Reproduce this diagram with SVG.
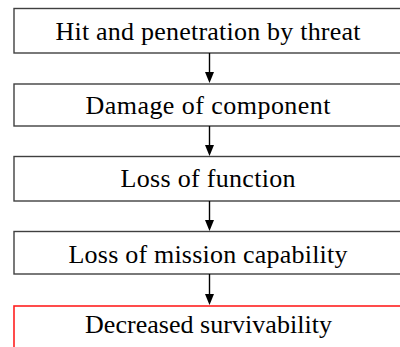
<svg xmlns="http://www.w3.org/2000/svg" width="400" height="347" viewBox="0 0 400 347">
<style>
.box{fill:#fff;stroke:#404040;stroke-width:1.4}
.red{fill:#fff;stroke:#ff2020;stroke-width:1.6}
.lbl{font-family:"Liberation Serif","Times New Roman",serif;font-size:26px;fill:#000;text-anchor:middle}
.ln{stroke:#000;stroke-width:1.4}
</style>
<rect width="400" height="347" fill="#fff"/>
<g id="n1"><rect class="box" x="14" y="8.5" width="400" height="44.5"/><text class="lbl" x="208" y="40" textLength="305" lengthAdjust="spacing">Hit and penetration by threat</text></g>
<g id="n2"><rect class="box" x="14" y="84" width="400" height="42"/><text class="lbl" x="208" y="114" textLength="245" lengthAdjust="spacing">Damage of component</text></g>
<g id="n3"><rect class="box" x="14" y="156.5" width="400" height="44.5"/><text class="lbl" x="208" y="187" textLength="175" lengthAdjust="spacing">Loss of function</text></g>
<g id="n4"><rect class="box" x="14" y="231.5" width="400" height="42.5"/><text class="lbl" x="208" y="262.5" textLength="279" lengthAdjust="spacing">Loss of mission capability</text></g>
<g id="n5"><rect class="red" x="14" y="306" width="400" height="60"/><text class="lbl" x="208.5" y="333" textLength="247" lengthAdjust="spacing">Decreased survivability</text></g>
<g id="connectors">
<line class="ln" x1="209.5" y1="53" x2="209.5" y2="72"/><path d="M205,72 L214,72 L209.5,83 Z"/>
<line class="ln" x1="209.5" y1="126" x2="209.5" y2="145"/><path d="M205,145 L214,145 L209.5,156 Z"/>
<line class="ln" x1="209.5" y1="201" x2="209.5" y2="220"/><path d="M205,220 L214,220 L209.5,231 Z"/>
<line class="ln" x1="209.5" y1="274" x2="209.5" y2="294"/><path d="M205,294 L214,294 L209.5,305 Z"/>
</g>
</svg>
